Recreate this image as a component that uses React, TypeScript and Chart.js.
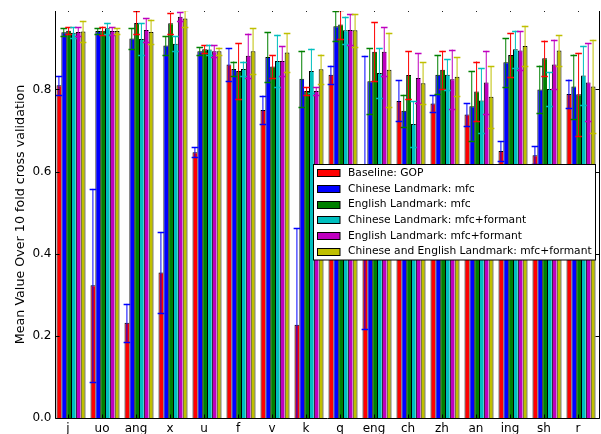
import React, { useEffect, useRef } from 'react';
import { Chart, registerables } from 'chart.js';

Chart.register(...registerables);

const categories = ['j', 'uo', 'ang', 'x', 'u', 'f', 'v', 'k', 'q', 'eng', 'ch', 'zh', 'an', 'ing', 'sh', 'r'];
const seriesNames = [
  'Baseline: GOP',
  'Chinese Landmark: mfc',
  'English Landmark: mfc',
  'Chinese Landmark: mfc+formant',
  'English Landmark: mfc+formant',
  'Chinese and English Landmark: mfc+formant',
];

const baselineGop = [0.810, 0.323, 0.232, 0.354, 0.647, 0.861, 0.750, 0.227, 0.836, 0.549, 0.772, 0.766, 0.739, 0.650, 0.640, 0.789];
const baselineGopErr = [0.023, 0.235, 0.046, 0.099, 0.012, 0.040, 0.035, 0.235, 0.022, 0.333, 0.050, 0.020, 0.028, 0.024, 0.022, 0.035];

const chineseMfc = [0.939, 0.942, 0.924, 0.907, 0.893, 0.850, 0.879, 0.826, 0.954, 0.820, 0.748, 0.836, 0.759, 0.866, 0.800, 0.807];
const chineseMfcErr = [0.010, 0.007, 0.025, 0.022, 0.010, 0.018, 0.060, 0.068, 0.037, 0.080, 0.039, 0.048, 0.085, 0.059, 0.058, 0.078];

const englishMfc = [0.943, 0.943, 0.962, 0.961, 0.898, 0.845, 0.856, 0.796, 0.958, 0.892, 0.835, 0.848, 0.795, 0.884, 0.876, 0.788];
const englishMfcErr = [0.008, 0.010, 0.028, 0.025, 0.009, 0.068, 0.027, 0.010, 0.035, 0.072, 0.058, 0.046, 0.073, 0.053, 0.043, 0.101];

const chineseMfcFormant = [0.938, 0.949, 0.923, 0.911, 0.897, 0.850, 0.869, 0.845, 0.944, 0.840, 0.716, 0.836, 0.773, 0.898, 0.801, 0.834];
const chineseMfcFormantErr = [0.013, 0.013, 0.038, 0.018, 0.012, 0.018, 0.064, 0.054, 0.033, 0.061, 0.055, 0.038, 0.078, 0.045, 0.041, 0.072];

const englishMfcFormant = [0.940, 0.942, 0.945, 0.977, 0.893, 0.882, 0.869, 0.796, 0.945, 0.892, 0.828, 0.825, 0.817, 0.895, 0.861, 0.817];
const englishMfcFormantErr = [0.011, 0.009, 0.029, 0.011, 0.014, 0.054, 0.036, 0.010, 0.038, 0.060, 0.060, 0.072, 0.077, 0.047, 0.060, 0.095];

const bothMfcFormant = [0.941, 0.942, 0.940, 0.973, 0.893, 0.893, 0.890, 0.849, 0.944, 0.848, 0.815, 0.831, 0.782, 0.906, 0.895, 0.807];
const bothMfcFormantErr = [0.026, 0.007, 0.030, 0.020, 0.009, 0.056, 0.047, 0.036, 0.040, 0.090, 0.051, 0.047, 0.075, 0.049, 0.037, 0.114];

const yTickValues = [0, 0.2, 0.4, 0.6, 0.8];
const yAxisTitle = 'Mean Value Over 10 fold cross validation';

const barColors = ['#ff0000', '#0000ff', '#008000', '#00bfbf', '#bf00bf', '#bfbf00'];
const errorColors = ['#0000ff', '#008000', '#ff0000', '#00bfbf', '#bf00bf', '#bfbf00'];

const FONT = "'DejaVu Sans', sans-serif";
const LABEL_OFFSET = -3;

const errorBarPlugin = {
  id: 'errorBars',
  afterDatasetsDraw(chart: any) {
    const ctx = chart.ctx;
    const area = chart.chartArea;
    const yScale = chart.scales.y;
    ctx.save();
    ctx.beginPath();
    ctx.rect(area.left, area.top, area.right - area.left, area.bottom - area.top);
    ctx.clip();
    chart.data.datasets.forEach((ds: any, di: number) => {
      const meta = chart.getDatasetMeta(di);
      meta.data.forEach((bar: any, i: number) => {
        const v = ds.data[i];
        const e = ds.errors[i];
        const x = bar.x;
        const yt = yScale.getPixelForValue(v + e);
        const yb = yScale.getPixelForValue(v - e);
        ctx.strokeStyle = errorColors[di];
        ctx.lineWidth = 1;
        ctx.beginPath();
        ctx.moveTo(x, yt);
        ctx.lineTo(x, yb);
        ctx.stroke();
        ctx.lineWidth = 1.3;
        ctx.beginPath();
        const ytr = Math.round(yt) + 0.5;
        const ybr = Math.round(yb) + 0.5;
        ctx.moveTo(x - 3.3, ytr);
        ctx.lineTo(x + 3.3, ytr);
        ctx.moveTo(x - 3.3, ybr);
        ctx.lineTo(x + 3.3, ybr);
        ctx.stroke();
      });
    });
    ctx.restore();
  },
};

const framePlugin = {
  id: 'frame',
  afterDraw(chart: any) {
    const ctx = chart.ctx;
    const area = chart.chartArea;
    const xScale = chart.scales.x;
    const yScale = chart.scales.y;
    const left = 55.5;
    const right = 599.5;
    const top = area.top;
    const bottom = area.bottom + 0.5;
    ctx.save();
    ctx.strokeStyle = '#000';
    ctx.lineWidth = 1;
    ctx.beginPath();
    categories.forEach((_, i) => {
      const x = Math.round(xScale.getPixelForTick(i) + LABEL_OFFSET) + 0.5;
      ctx.moveTo(x, bottom);
      ctx.lineTo(x, bottom - 4);
    });
    yTickValues.forEach((v) => {
      const y = Math.round(yScale.getPixelForValue(v)) + 0.5;
      ctx.moveTo(left, y);
      ctx.lineTo(left + 4, y);
      ctx.moveTo(right, y);
      ctx.lineTo(right - 4, y);
    });
    ctx.stroke();
    ctx.fillStyle = '#222';
    categories.forEach((_, i) => {
      const x = Math.round(xScale.getPixelForTick(i) + LABEL_OFFSET);
      ctx.fillRect(x, top, 1, 1);
    });
    ctx.beginPath();
    ctx.moveTo(left, top);
    ctx.lineTo(left, bottom);
    ctx.lineTo(right, bottom);
    ctx.lineTo(right, top);
    ctx.stroke();

    const lx = 313.5;
    const ly = 164.5;
    const lw = 282;
    const lh = 95.5;
    ctx.fillStyle = '#fff';
    ctx.fillRect(lx, ly, lw, lh);
    ctx.strokeStyle = '#000';
    ctx.strokeRect(lx, ly, lw, lh);
    ctx.font = `10.7px ${FONT}`;
    ctx.textBaseline = 'middle';
    ctx.textAlign = 'left';
    chart.data.datasets.forEach((ds: any, di: number) => {
      const cy = 172.8 + di * 15.68;
      ctx.fillStyle = barColors[di];
      ctx.fillRect(317.5, Math.round(cy - 3.5) + 0.5, 22.5, 7);
      ctx.strokeStyle = '#000';
      ctx.strokeRect(317.5, Math.round(cy - 3.5) + 0.5, 22.5, 7);
      ctx.fillStyle = '#000';
      ctx.fillText(ds.label, 348, cy + 0.5);
    });
    ctx.restore();
  },
};

export default function App() {
  const canvasRef = useRef<HTMLCanvasElement | null>(null);

  useEffect(() => {
    if (!canvasRef.current) return;
    const seriesValues = [baselineGop, chineseMfc, englishMfc, chineseMfcFormant, englishMfcFormant, bothMfcFormant];
    const seriesErrors = [baselineGopErr, chineseMfcErr, englishMfcErr, chineseMfcFormantErr, englishMfcFormantErr, bothMfcFormantErr];
    const datasets = seriesNames.map((name, i) => ({
      label: name,
      data: seriesValues[i],
      errors: seriesErrors[i],
      backgroundColor: barColors[i],
      borderColor: '#000',
      borderWidth: i === seriesNames.length - 1
        ? { top: 1, left: 1, right: 1, bottom: 0 }
        : { top: 1, left: 1, right: 0, bottom: 0 },
      borderSkipped: false,
      categoryPercentage: 0.853,
      barPercentage: 1,
    }));

    const chart = new Chart(canvasRef.current, {
      type: 'bar',
      data: { labels: categories, datasets },
      options: {
        responsive: false,
        animation: false,
        events: [],
        layout: { padding: { left: 0, right: 3, top: 11, bottom: 0 } },
        plugins: {
          legend: { display: false },
          tooltip: { enabled: false },
        },
        scales: {
          x: {
            type: 'category',
            offset: true,
            grid: { display: false, drawTicks: false },
            border: { display: false },
            ticks: {
              color: '#000',
              font: { family: FONT, size: 12 },
              padding: 3.5,
              labelOffset: LABEL_OFFSET,
              maxRotation: 0,
              autoSkip: false,
            },
            afterFit(scale: any) {
              scale.height = 16;
            },
          },
          y: {
            type: 'linear',
            min: 0,
            max: 0.991,
            grid: { display: false, drawTicks: false },
            border: { display: false },
            afterBuildTicks(scale: any) {
              scale.ticks = yTickValues.map((v) => ({ value: v }));
            },
            ticks: {
              color: '#000',
              font: { family: FONT, size: 12 },
              padding: 2.5,
              callback: (v: any) => Number(v).toFixed(1),
            },
            title: {
              display: true,
              text: yAxisTitle,
              color: '#000',
              font: { family: FONT, size: 12.7 },
              padding: { top: 13.4, bottom: 0 },
            },
            afterFit(scale: any) {
              scale.width = 54;
            },
          },
        },
      },
      plugins: [errorBarPlugin, framePlugin],
    } as any);

    return () => chart.destroy();
  }, []);

  return (
    <div style={{ position: 'absolute', left: 0, top: 0, width: 601, height: 434, background: '#fff' }}>
      <canvas ref={canvasRef} width={601} height={434} style={{ display: 'block' }} />
    </div>
  );
}
